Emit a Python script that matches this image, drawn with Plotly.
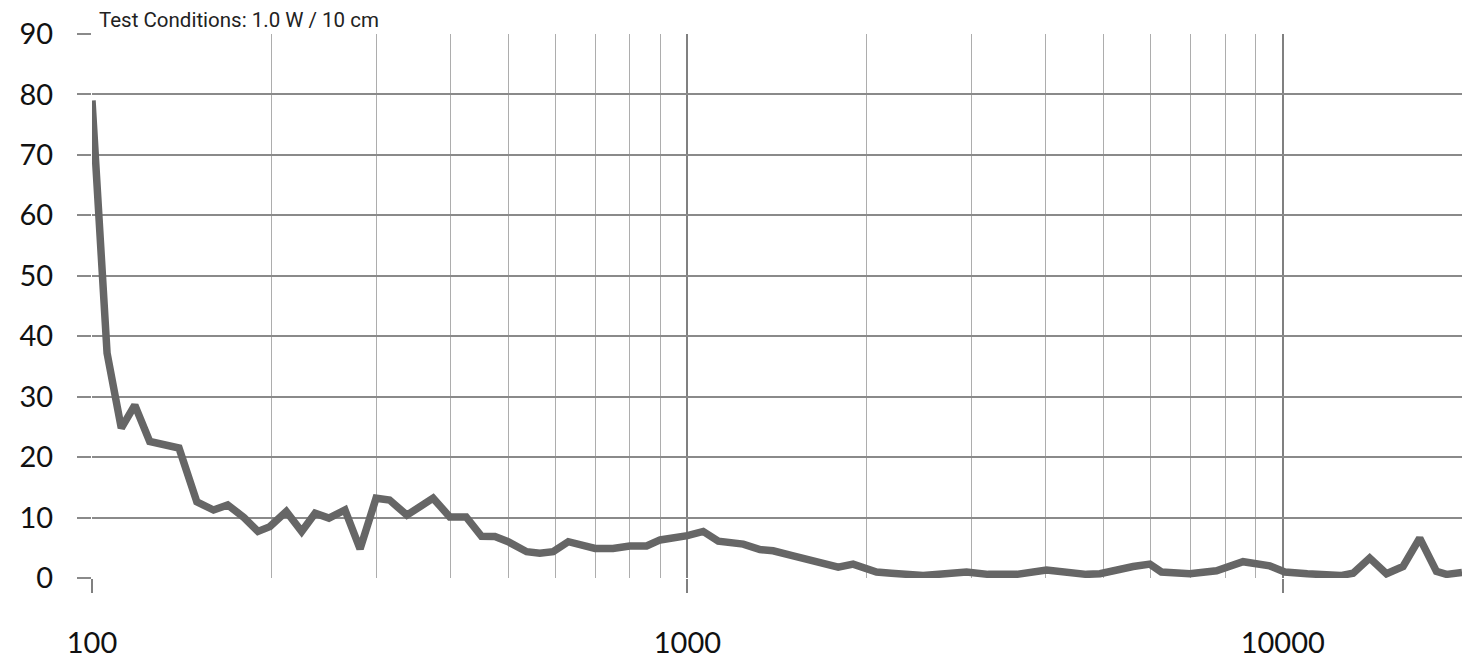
import plotly.graph_objects as go

freq_hz = [100, 106, 112, 118, 125, 133, 140, 150, 160, 169, 180, 190, 199, 212, 225,
           237, 250, 266, 282, 300, 316, 338, 374, 399, 425, 451, 475, 500, 537, 565,
           595, 631, 660, 700, 750, 800, 854, 900, 1000, 1063, 1127, 1241, 1324, 1393,
           1500, 1586, 1700, 1792, 1898, 2078, 2200, 2489, 2944, 3200, 3571, 4011, 4680,
           4931, 5606, 5981, 6252, 6981, 7739, 8576, 9510, 10079, 11000, 11839, 12500,
           13125, 13995, 14935, 15922, 16982, 18118, 18836, 20000]
thd_pct = [79, 37.2, 24.8, 28.6, 22.6, 22.0, 21.5, 12.6, 11.25, 12.1, 10.0, 7.7, 8.5, 11.0, 7.7,
           10.7, 9.9, 11.25, 4.8, 13.2, 12.9, 10.4, 13.2, 10.1, 10.1, 6.9, 6.85, 6.0, 4.35, 4.1,
           4.35, 6.0, 5.46, 4.9, 4.9, 5.3, 5.3, 6.3, 7.0, 7.7, 6.1, 5.6, 4.7, 4.5,
           3.7, 3.2, 2.4, 1.8, 2.3, 1.0, 0.8, 0.4, 1.0, 0.6, 0.6, 1.3, 0.6,
           0.7, 1.9, 2.3, 1.0, 0.7, 1.2, 2.7, 2.0, 1.0, 0.7, 0.6, 0.4,
           0.8, 3.3, 0.7, 1.9, 6.6, 1.1, 0.6, 0.9]

x_major_ticks = [100, 1000, 10000]
x_major_labels = ["100", "1000", "10000"]
x_minor_ticks = [m * d for d in (100, 1000, 10000) for m in range(2, 10)] + [20000]
y_ticks = [0, 10, 20, 30, 40, 50, 60, 70, 80, 90]
title_text = "Test Conditions: 1.0 W / 10 cm"

fig = go.Figure()
fig.add_trace(go.Scatter(
    x=freq_hz, y=thd_pct, mode="lines",
    line=dict(color="#666666", width=7.5),
    hoverinfo="x+y", showlegend=False,
))

fig.update_layout(
    width=1473, height=661,
    margin=dict(l=92, r=11, t=34, b=83),
    paper_bgcolor="white", plot_bgcolor="white",
    font=dict(family="Lato, 'Open Sans', sans-serif", color="#111111"),
    annotations=[dict(
        text=title_text, xref="paper", yref="paper", x=0.004, y=1.0,
        xanchor="left", yanchor="bottom", yshift=0, showarrow=False,
        font=dict(family="Roboto, sans-serif", size=20.5, color="#222222"),
    )],
)

fig.update_xaxes(
    type="log", range=[2, 4.30103], automargin=False,
    tickvals=x_major_ticks, ticktext=x_major_labels,
    ticks="outside", ticklen=14, tickwidth=1.5, tickcolor="#808080",
    ticklabelstandoff=25,
    tickfont=dict(size=29, family="Lato, 'Open Sans', sans-serif"),
    showgrid=True, gridcolor="#808080", gridwidth=1.5,
    minor=dict(tickvals=x_minor_ticks, showgrid=True, gridcolor="#adadad",
               gridwidth=1.3, ticks=""),
    showline=False, zeroline=False,
)
fig.update_yaxes(
    range=[0, 90], tickvals=y_ticks, automargin=False,
    ticks="outside", ticklen=14, tickwidth=1.5, tickcolor="#8a8a8a",
    ticklabelstandoff=18,
    tickfont=dict(size=29, family="Lato, 'Open Sans', sans-serif"),
    showgrid=True, gridcolor="#8a8a8a", gridwidth=1.5,
    showline=False, zeroline=False,
)

fig.write_html("out.html", config={"displayModeBar": False},
               post_script="document.body.style.margin='0';")
